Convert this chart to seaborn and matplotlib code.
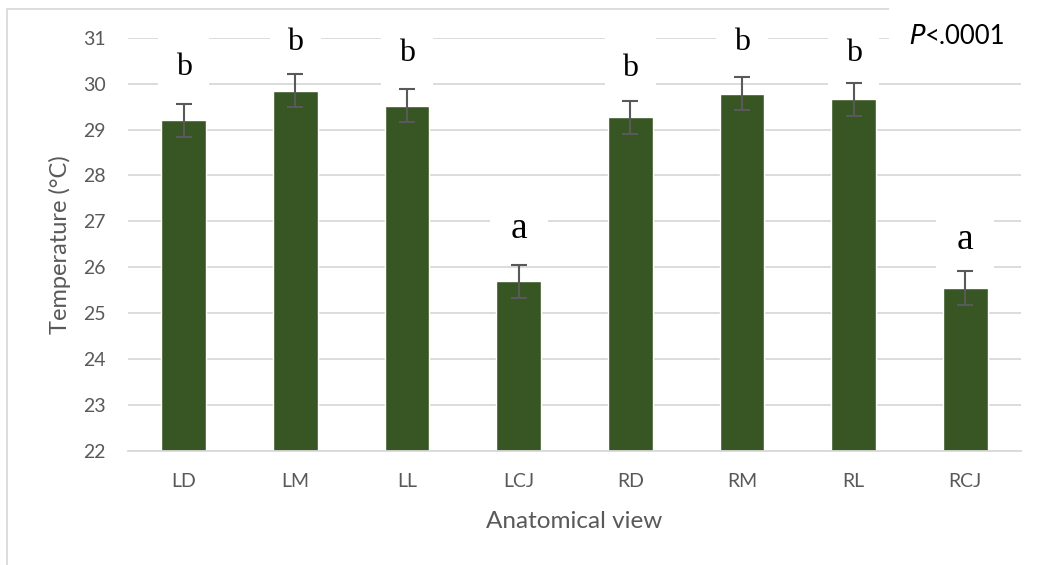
import matplotlib
matplotlib.use("Agg")
import matplotlib.pyplot as plt
import seaborn as sns
import pandas as pd
from matplotlib.patches import Rectangle

views = ["LD", "LM", "LL", "LCJ", "RD", "RM", "RL", "RCJ"]
temps = [29.20, 29.85, 29.52, 25.70, 29.27, 29.78, 29.66, 25.55]
errs = [0.36, 0.36, 0.36, 0.36, 0.36, 0.36, 0.36, 0.36]
letters = ["b", "b", "b", "a", "b", "b", "b", "a"]
letter_y = [30.35, 30.89, 30.65, 26.85, 30.33, 30.89, 30.65, 26.61]

df = pd.DataFrame({"view": views, "temp": temps})

sns.set_style("white")
plt.rcParams["font.family"] = ["Lato", "DejaVu Sans"]

gray = "#595959"
grid = "#D9D9D9"
green = "#375623"

fig = plt.figure(figsize=(10.38, 5.65), dpi=100)
ax = fig.add_axes([128 / 1038, 1 - 451 / 565, 893 / 1038, (451 - 37.7) / 565])

sns.barplot(data=df, x="view", y="temp", color=green, saturation=1,
            width=0.4, ax=ax, errorbar=None)
ax.errorbar(range(len(views)), temps, yerr=errs, fmt="none",
            ecolor=gray, elinewidth=1.5, capsize=6, capthick=1.5, zorder=3)

ax.set_ylim(22, 31)
ax.set_xlim(-0.5, len(views) - 0.5)
ax.set_yticks(range(22, 32))
ax.set_axisbelow(True)
ax.yaxis.grid(True, color=grid, linewidth=1.3)
for s in ["top", "right", "left"]:
    ax.spines[s].set_visible(False)
ax.spines["bottom"].set_color(grid)
ax.spines["bottom"].set_linewidth(1.3)
ax.tick_params(axis="both", length=0, labelsize=14, colors=gray)
ax.tick_params(axis="y", pad=16)
ax.tick_params(axis="x", pad=16)

ax.set_xlabel("Anatomical view", fontsize=17.5, color=gray, labelpad=15)
ax.set_ylabel("Temperature (°C)", fontsize=17, color=gray, labelpad=9)

# significance letters, white text boxes hide the gridlines behind them
for i, (lt, yy) in enumerate(zip(letters, letter_y)):
    ax.text(i, yy, lt, ha="center", va="center",
            fontsize=23 if lt == "b" else 27, family="Liberation Serif",
            color="black", zorder=1.8,
            bbox=dict(boxstyle="square,pad=0.55", fc="white", ec="none"))

# chart frame (only top and left visible in the crop)
fig.patches.append(Rectangle((7 / 1038, -0.1), 2, 1.1 - 9 / 565,
                             transform=fig.transFigure, fill=False,
                             ec=grid, lw=1.3, zorder=0))
fig.patches.append(Rectangle((889 / 1038, 1 - 55 / 565), 0.2, 0.2,
                             transform=fig.transFigure, fc="white",
                             ec="none", zorder=5))
fig.text(909 / 1038, 1 - 36 / 565, r"$\it{P}$", fontsize=18.5, color="black",
         va="center", ha="left", zorder=6, family="Lato")
fig.text(925 / 1038, 1 - 36 / 565, "<.0001", fontsize=18.5, color="black",
         va="center", ha="left", zorder=6)

fig.savefig("out.png", dpi=100)
